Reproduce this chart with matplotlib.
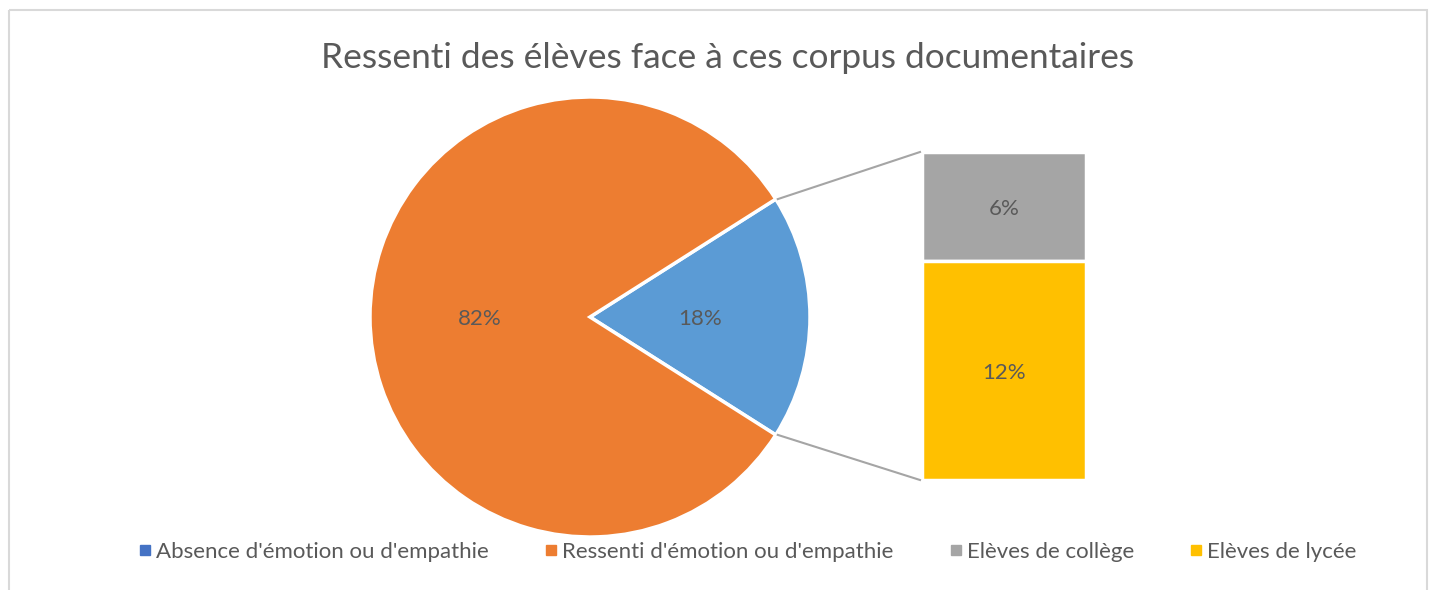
import matplotlib
matplotlib.use("Agg")
import matplotlib.pyplot as plt
from matplotlib.patches import Rectangle
from matplotlib.lines import Line2D
import numpy as np

plt.rcParams['font.family'] = ['Lato', 'DejaVu Sans']

title = "Ressenti des élèves face à ces corpus documentaires"
pie_labels = ["Absence d'émotion ou d'empathie", "Ressenti d'émotion ou d'empathie"]
pie_values = [18, 82]
bar_labels = ["Elèves de collège", "Elèves de lycée"]
bar_values = [6, 12]

pie_colors = ["#5B9BD5", "#ED7D31"]
legend_colors = ["#4472C4", "#ED7D31", "#A5A5A5", "#FFC000"]
bar_colors = ["#A5A5A5", "#FFC000"]
txt = "#595959"

W, H = 1437, 590
fig = plt.figure(figsize=(W / 100, H / 100), dpi=100)
ax = fig.add_axes([0, 0, 1, 1])

# border
ax.add_patch(Rectangle((9, 10), 1418, 600, fill=False, edgecolor="#D9D9D9", lw=1.5))

ax.text(728, 58, title, ha='center', va='center', fontsize=25.4, color=txt)

cx, cy, r = 590, 317, 220
half = pie_values[0] / sum(pie_values) * 360 / 2
wedges, texts = ax.pie(pie_values, colors=pie_colors, startangle=-half, counterclock=True,
                       center=(cx, cy), radius=r, frame=True,
                       wedgeprops=dict(edgecolor='white', linewidth=2.5))
ax.set_xlim(0, W)
ax.set_ylim(H, 0)
ax.set_aspect('equal')
ax.axis('off')
tot = sum(pie_values)
ax.text(cx + 110, cy + 2, f"{pie_values[0] / tot * 100:.0f}%", ha='center', va='center', fontsize=16, color=txt)
ax.text(cx - 110, cy + 2, f"{pie_values[1] / tot * 100:.0f}%", ha='center', va='center', fontsize=16, color=txt)

# stacked bar
bx, bw = 1004, 164
top, bottom_px = 152, 480
scale = (bottom_px - top) / sum(bar_values)
y0 = top
for v, c in zip(bar_values, bar_colors):
    h = v * scale
    ax.bar(bx, h, width=bw, bottom=y0, color=c, edgecolor='white', linewidth=2.5)
    ax.text(bx, y0 + h / 2 + 2, f"{v}%", ha='center', va='center', fontsize=16, color=txt)
    y0 += h

a = np.deg2rad(half)
ex, ey = cx + r * np.cos(a), r * np.sin(a)
ax.plot([ex + 2, bx - bw / 2 - 2], [cy - ey, top], color="#A5A5A5", lw=1.5)
ax.plot([ex + 2, bx - bw / 2 - 2], [cy + ey, bottom_px], color="#A5A5A5", lw=1.5)

handles = [Line2D([], [], marker='s', linestyle='none', markersize=7, color=c) for c in legend_colors]
fig.legend(handles, pie_labels + bar_labels, loc='center', bbox_to_anchor=(747 / W, 1 - 552 / H),
           ncol=4, frameon=False, fontsize=16, labelcolor=txt, handletextpad=0.15,
           columnspacing=2.45, handlelength=0.7)

fig.savefig("out.png", dpi=100)
